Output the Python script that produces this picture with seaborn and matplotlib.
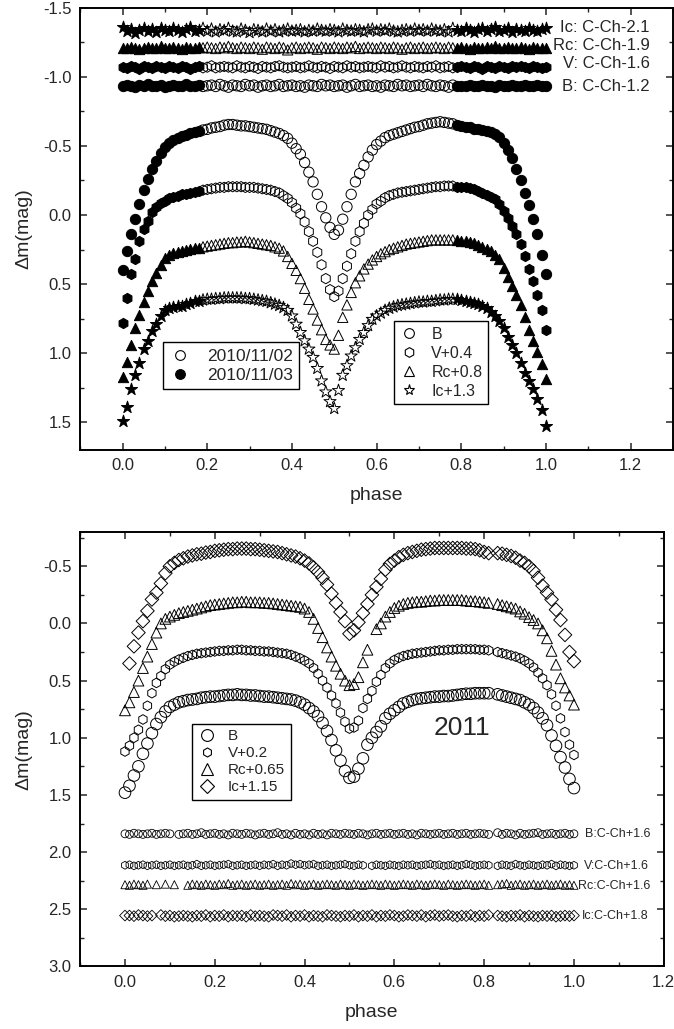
import numpy as np
import matplotlib
matplotlib.use("Agg")
import matplotlib.pyplot as plt
import seaborn as sns
from matplotlib.lines import Line2D
from matplotlib.ticker import MultipleLocator

nan = np.nan

# ---------------- data ----------------
phase_grid = np.round(np.linspace(0.0, 1.0, 101), 2)

# 2010 light curves (already offset as labelled)
B_2010 = [0.40, 0.26, 0.14, 0.03, -0.08, -0.18, -0.26, -0.33, -0.39, -0.45,
          -0.49, -0.52, -0.54, -0.555, -0.57, -0.58, -0.59, -0.60, -0.61, -0.615,
          -0.62, -0.63, -0.635, -0.64, -0.65, -0.655, -0.655, -0.65, -0.645, -0.645,
          -0.64, -0.635, -0.63, -0.625, -0.62, -0.61, -0.60, -0.59, -0.575, -0.555,
          -0.52, -0.48, -0.44, -0.38, -0.31, -0.24, -0.15, -0.06, 0.02, 0.09,
          0.14, 0.11, 0.03, -0.06, -0.15, -0.24, -0.30, -0.36, -0.42, -0.47,
          -0.51, -0.535, -0.56, -0.575, -0.585, -0.595, -0.605, -0.615, -0.625, -0.635,
          -0.64, -0.65, -0.66, -0.665, -0.67, -0.675, -0.67, -0.665, -0.66, -0.65,
          -0.645, -0.64, -0.635, -0.625, -0.62, -0.615, -0.61, -0.60, -0.585, -0.565,
          -0.52, -0.47, -0.41, -0.33, -0.25, -0.16, -0.07, 0.03, 0.14, 0.29, 0.43]
V_2010 = [0.78, 0.60, 0.43, 0.32, 0.19, 0.10, 0.04, -0.02, -0.06, -0.09,
          -0.105, -0.12, -0.13, -0.14, -0.15, -0.155, -0.16, -0.17, -0.175, -0.18,
          -0.185, -0.19, -0.195, -0.20, -0.20, -0.205, -0.205, -0.205, -0.205, -0.20,
          -0.20, -0.20, -0.195, -0.19, -0.185, -0.18, -0.17, -0.16, -0.14, -0.12,
          -0.09, -0.05, -0.01, 0.05, 0.12, 0.19, 0.27, 0.36, 0.46, 0.54,
          0.59, 0.55, 0.46, 0.37, 0.28, 0.19, 0.12, 0.06, 0.00, -0.04,
          -0.08, -0.10, -0.125, -0.14, -0.15, -0.16, -0.165, -0.17, -0.175, -0.18,
          -0.185, -0.19, -0.195, -0.20, -0.205, -0.205, -0.21, -0.21, -0.21, -0.205,
          -0.205, -0.20, -0.195, -0.185, -0.175, -0.16, -0.145, -0.13, -0.115, -0.08,
          -0.03, 0.02, 0.08, 0.14, 0.21, 0.30, 0.39, 0.48, 0.58, 0.69, 0.83]
Rc_2010 = [1.17, 1.06, 0.94, 0.82, 0.72, 0.63, 0.55, 0.48, 0.42, 0.36,
           0.31, 0.29, 0.275, 0.265, 0.26, 0.25, 0.245, 0.24, 0.235, 0.23,
           0.225, 0.22, 0.215, 0.21, 0.205, 0.20, 0.20, 0.195, 0.195, 0.19,
           0.195, 0.20, 0.205, 0.21, 0.215, 0.22, 0.23, 0.24, 0.26, 0.30,
           0.35, 0.40, 0.46, 0.53, 0.61, 0.68, 0.76, 0.83, 0.90, 0.94,
           0.97, 0.87, 0.74, 0.65, 0.56, 0.49, 0.44, 0.39, 0.355, 0.325,
           0.30, 0.28, 0.265, 0.25, 0.24, 0.23, 0.22, 0.21, 0.205, 0.20,
           0.195, 0.19, 0.185, 0.18, 0.18, 0.18, 0.18, 0.18, 0.18, 0.18,
           0.185, 0.19, 0.195, 0.205, 0.215, 0.23, 0.245, 0.26, 0.29, 0.32,
           0.38, 0.45, 0.51, 0.58, 0.65, 0.74, 0.83, 0.91, 0.99, 1.08, 1.19]
Ic_2010 = [1.49, 1.39, 1.26, 1.16, 1.07, 0.97, 0.91, 0.84, 0.79, 0.73,
           0.69, 0.675, 0.665, 0.66, 0.655, 0.645, 0.635, 0.625, 0.62, 0.615,
           0.61, 0.61, 0.605, 0.605, 0.60, 0.60, 0.60, 0.60, 0.60, 0.605,
           0.605, 0.61, 0.615, 0.62, 0.625, 0.635, 0.645, 0.655, 0.67, 0.69,
           0.73, 0.79, 0.85, 0.91, 0.97, 1.03, 1.11, 1.20, 1.28, 1.35,
           1.40, 1.27, 1.16, 1.09, 1.02, 0.96, 0.90, 0.85, 0.80, 0.755,
           0.73, 0.71, 0.69, 0.675, 0.665, 0.655, 0.65, 0.645, 0.64, 0.635,
           0.63, 0.63, 0.625, 0.625, 0.62, 0.615, 0.615, 0.61, 0.61, 0.61,
           0.615, 0.62, 0.63, 0.64, 0.645, 0.66, 0.675, 0.70, 0.73, 0.77,
           0.82, 0.88, 0.94, 1.00, 1.07, 1.14, 1.20, 1.26, 1.33, 1.41, 1.53]

# 2010 comparison - check star rows
B_cmp_2010 = [-0.93, -0.94, -0.935, -0.925, -0.94, -0.93, -0.945, -0.935, -0.93, -0.94,
              -0.925, -0.935, -0.94, -0.93, -0.935, -0.945, -0.93, -0.935, -0.94, -0.93,
              -0.935, -0.94, -0.93, -0.945, -0.935, -0.925, -0.94, -0.935, -0.93, -0.945,
              -0.935, -0.94, -0.925, -0.935, -0.94, -0.93, -0.935, -0.945, -0.93, -0.935,
              -0.94, -0.93, -0.935, -0.925, -0.94, -0.935, -0.93, -0.945, -0.935, -0.94,
              -0.93, -0.935, -0.94, -0.925, -0.935, -0.945, -0.93, -0.935, -0.94, -0.93,
              -0.935, -0.925, -0.94, -0.935, -0.93, -0.945, -0.935, -0.94, -0.93, -0.935,
              -0.94, -0.93, -0.945, -0.935, -0.93, -0.94, -0.935, -0.925, -0.94, -0.935,
              -0.93, -0.935, -0.94, -0.93, -0.935, -0.94, -0.93, -0.935, -0.925, -0.94,
              -0.935, -0.93, -0.94, -0.935, -0.93, -0.94, -0.935, -0.93, -0.94, -0.935, -0.93]
V_cmp_2010 = [-1.07, -1.065, -1.075, -1.07, -1.06, -1.075, -1.07, -1.065, -1.08, -1.07,
              -1.065, -1.075, -1.07, -1.065, -1.075, -1.07, -1.06, -1.07, -1.075, -1.065,
              -1.07, -1.08, -1.065, -1.07, -1.075, -1.07, -1.065, -1.08, -1.07, -1.065,
              -1.075, -1.07, -1.06, -1.075, -1.07, -1.065, -1.075, -1.08, -1.07, -1.065,
              -1.07, -1.075, -1.065, -1.07, -1.08, -1.07, -1.065, -1.075, -1.07, -1.06,
              -1.075, -1.07, -1.065, -1.08, -1.07, -1.075, -1.065, -1.07, -1.075, -1.07,
              -1.065, -1.08, -1.07, -1.075, -1.065, -1.07, -1.08, -1.07, -1.065, -1.075,
              -1.07, -1.065, -1.075, -1.07, -1.08, -1.065, -1.07, -1.075, -1.065, -1.07,
              -1.075, -1.07, -1.065, -1.075, -1.07, -1.06, -1.075, -1.07, -1.065, -1.075,
              -1.07, -1.065, -1.075, -1.07, -1.08, -1.07, -1.065, -1.075, -1.07, -1.065, -1.07]
Rc_cmp_2010 = [-1.21, -1.205, -1.215, -1.21, -1.2, -1.21, -1.215, -1.205, -1.21, -1.22,
               -1.21, -1.205, -1.215, -1.21, -1.2, -1.215, -1.21, -1.205, -1.215, -1.21,
               -1.215, -1.21, -1.205, -1.215, -1.21, -1.22, -1.21, -1.205, -1.215, -1.21,
               -1.205, -1.215, -1.21, -1.2, -1.215, -1.21, -1.205, -1.215, -1.21, -1.195,
               -1.21, -1.215, -1.205, -1.21, -1.215, -1.21, -1.2, -1.215, -1.21, -1.205,
               -1.215, -1.21, -1.205, -1.215, -1.21, -1.22, -1.205, -1.21, -1.215, -1.21,
               -1.205, -1.215, -1.21, -1.205, -1.215, -1.21, -1.2, -1.21, -1.215, -1.205,
               -1.21, -1.215, -1.205, -1.21, -1.215, -1.21, -1.205, -1.215, -1.21, -1.205,
               -1.215, -1.21, -1.2, -1.215, -1.21, -1.205, -1.215, -1.21, -1.22, -1.21,
               -1.205, -1.215, -1.21, -1.205, -1.215, -1.21, -1.2, -1.215, -1.21, -1.205, -1.21]
Ic_cmp_2010 = [-1.36, -1.33, -1.345, -1.32, -1.34, -1.355, -1.33, -1.345, -1.325, -1.35,
               -1.34, -1.33, -1.355, -1.34, -1.325, -1.345, -1.36, -1.335, -1.34, -1.35,
               -1.33, -1.345, -1.325, -1.34, -1.335, -1.35, -1.33, -1.325, -1.345, -1.335,
               -1.32, -1.34, -1.335, -1.325, -1.345, -1.33, -1.34, -1.325, -1.335, -1.345,
               -1.33, -1.335, -1.34, -1.325, -1.335, -1.33, -1.345, -1.335, -1.33, -1.34,
               -1.335, -1.325, -1.345, -1.335, -1.33, -1.34, -1.335, -1.325, -1.34, -1.345,
               -1.33, -1.34, -1.335, -1.345, -1.33, -1.325, -1.335, -1.34, -1.33, -1.345,
               -1.335, -1.34, -1.33, -1.345, -1.335, -1.33, -1.34, -1.325, -1.35, -1.34,
               -1.33, -1.355, -1.34, -1.325, -1.345, -1.35, -1.33, -1.345, -1.36, -1.335,
               -1.34, -1.35, -1.325, -1.345, -1.34, -1.33, -1.355, -1.34, -1.33, -1.345, -1.35]

# 2011 light curves
B_2011 = [1.48, 1.42, 1.33, 1.25, 1.14, 1.05, 0.96, 0.88, 0.82, 0.77,
          0.73, 0.71, 0.69, 0.68, 0.67, 0.665, 0.66, 0.65, 0.645, 0.64,
          0.64, 0.635, 0.63, 0.625, 0.625, 0.62, 0.625, 0.625, 0.63, 0.63,
          0.635, 0.64, 0.64, 0.645, 0.65, 0.655, 0.66, 0.665, 0.675, 0.69,
          0.71, 0.74, 0.77, 0.81, 0.87, 0.94, 1.02, 1.11, 1.20, 1.29,
          1.35, 1.34, 1.27, 1.18, 1.06, 1.00, 0.95, 0.90, 0.83, 0.79,
          0.76, 0.73, 0.70, 0.685, 0.67, 0.66, 0.655, 0.65, 0.645, 0.64,
          0.64, 0.635, 0.635, 0.63, 0.625, 0.62, 0.615, 0.615, 0.61, 0.61,
          0.61, 0.61, nan, 0.62, 0.63, 0.64, 0.65, 0.66, 0.67, 0.69,
          0.71, 0.74, 0.78, 0.83, 0.89, 0.98, 1.07, 1.17, 1.26, 1.36, 1.44]
V_2011 = [1.12, 1.07, 1.00, 0.93, 0.84, 0.72, 0.61, 0.52, 0.46, 0.40,
          0.36, 0.335, 0.315, 0.30, 0.285, 0.275, 0.265, 0.26, 0.255, 0.25,
          0.245, 0.24, 0.24, 0.235, 0.235, 0.23, 0.23, 0.235, 0.235, 0.24,
          0.24, 0.245, 0.245, 0.25, 0.255, 0.26, 0.265, 0.275, 0.29, 0.305,
          0.325, 0.35, 0.39, 0.44, 0.50, 0.56, 0.63, 0.70, 0.78, 0.86,
          0.92, 0.91, 0.85, 0.74, 0.66, 0.59, 0.51, 0.45, 0.39, 0.35,
          0.32, 0.30, 0.285, 0.275, 0.265, 0.26, 0.255, 0.25, 0.245, 0.24,
          0.235, 0.235, 0.23, 0.23, 0.225, 0.225, 0.225, 0.225, 0.225, 0.23,
          0.23, 0.235, nan, 0.25, 0.26, 0.27, 0.28, 0.29, 0.305, 0.325,
          0.35, 0.385, 0.43, 0.48, 0.54, 0.62, 0.72, 0.83, 0.95, 1.06, 1.15]
Rc_2011 = [0.76, 0.69, 0.60, 0.50, 0.39, 0.29, 0.18, 0.08, 0.00, -0.04,
           -0.06, -0.075, -0.09, -0.10, -0.11, -0.12, -0.13, -0.14, -0.15, -0.16,
           -0.165, -0.17, -0.175, -0.18, -0.185, -0.185, -0.19, -0.19, -0.185, -0.185,
           -0.185, -0.18, -0.18, -0.175, -0.17, -0.165, -0.16, -0.155, -0.15, -0.145,
           -0.13, -0.10, -0.04, 0.04, 0.12, 0.21, 0.29, 0.37, 0.44, 0.50,
           0.54, 0.53, 0.47, 0.34, 0.23, nan, 0.05, 0.00, -0.06, -0.10,
           -0.135, -0.155, -0.17, -0.18, -0.185, -0.19, -0.19, -0.195, -0.20, -0.20,
           -0.205, -0.205, -0.205, -0.205, -0.205, -0.205, -0.20, -0.195, -0.195, -0.19,
           -0.185, -0.18, nan, -0.17, -0.16, -0.15, -0.14, -0.13, -0.105, -0.085,
           -0.055, -0.03, 0.00, 0.06, 0.13, 0.24, 0.36, 0.48, 0.56, 0.63, 0.71]
Ic_2011 = [nan, 0.35, 0.20, 0.08, -0.02, -0.11, -0.21, -0.27, -0.35, -0.44,
           -0.50, -0.53, -0.555, -0.57, -0.585, -0.595, -0.605, -0.61, -0.62, -0.625,
           -0.635, -0.64, -0.645, -0.65, -0.65, -0.655, -0.655, -0.655, -0.65, -0.65,
           -0.645, -0.64, -0.635, -0.63, -0.625, -0.615, -0.605, -0.595, -0.585, -0.57,
           -0.55, -0.525, -0.49, -0.45, -0.40, -0.34, -0.26, -0.18, -0.10, -0.02,
           0.09, 0.06, -0.01, -0.09, -0.17, -0.25, -0.32, -0.39, -0.47, -0.52,
           -0.55, -0.58, -0.60, -0.615, -0.625, -0.635, -0.645, -0.65, -0.655, -0.66,
           -0.66, -0.66, -0.66, -0.66, -0.66, -0.66, -0.655, -0.655, -0.65, -0.64,
           -0.625, -0.615, nan, -0.615, -0.61, -0.60, -0.59, -0.575, -0.55, -0.53,
           -0.50, -0.46, -0.40, -0.33, -0.27, -0.21, -0.12, -0.03, 0.10, 0.25, 0.33]

B_cmp_2011 = [1.84, 1.845, 1.835, 1.84, 1.845, 1.84, 1.835, 1.845, 1.84, 1.835,
              1.84, nan, 1.845, 1.84, 1.835, 1.845, 1.84, 1.83, 1.845, 1.84,
              1.835, 1.845, 1.84, 1.85, 1.835, 1.84, 1.845, 1.835, 1.84, 1.85,
              1.84, 1.835, 1.845, 1.84, 1.83, 1.845, 1.84, 1.85, 1.835, 1.845,
              1.84, 1.85, 1.835, 1.845, 1.84, 1.85, 1.835, 1.84, 1.845, 1.835,
              1.84, 1.845, 1.835, 1.84, 1.85, 1.84, 1.835, 1.845, 1.84, 1.835,
              1.845, 1.84, 1.835, 1.845, 1.84, 1.85, 1.835, 1.84, 1.845, 1.84,
              1.835, 1.845, 1.84, 1.835, 1.845, 1.84, 1.835, 1.845, 1.84, 1.835,
              1.84, 1.845, nan, 1.83, 1.845, 1.835, 1.84, 1.85, 1.835, 1.845,
              1.84, 1.835, 1.83, 1.845, 1.84, 1.835, 1.845, 1.84, 1.835, 1.845, 1.84]
V_cmp_2011 = [2.115, 2.11, 2.12, 2.115, 2.11, 2.12, 2.115, 2.11, 2.12, 2.115,
              2.11, 2.12, 2.115, 2.11, 2.12, 2.115, 2.105, 2.12, 2.115, 2.11,
              2.12, 2.115, 2.11, 2.105, 2.12, 2.115, 2.11, 2.12, 2.115, 2.11,
              2.12, 2.11, 2.115, 2.105, 2.12, 2.11, 2.115, 2.1, 2.11, 2.105,
              2.115, 2.11, 2.105, 2.12, 2.115, 2.11, 2.12, 2.115, 2.11, 2.105,
              2.115, 2.12, 2.11, 2.115, nan, 2.12, 2.11, 2.115, 2.12, 2.11,
              2.115, 2.12, 2.11, 2.115, 2.11, 2.12, 2.115, 2.11, 2.105, 2.115,
              2.11, 2.12, 2.115, 2.11, 2.12, 2.115, 2.105, 2.11, 2.12, 2.115,
              2.11, 2.115, nan, 2.12, 2.11, 2.115, 2.12, 2.105, 2.115, 2.12,
              2.11, 2.115, 2.12, 2.11, 2.115, 2.105, 2.12, 2.11, 2.115, 2.12, 2.115]
Rc_cmp_2011 = [2.285, 2.29, 2.28, 2.285, 2.29, 2.28, nan, 2.285, nan, 2.28,
               nan, 2.285, nan, nan, 2.29, 2.28, 2.285, 2.29, 2.28, 2.285,
               2.29, 2.28, 2.285, 2.275, 2.29, 2.285, 2.28, 2.29, 2.285, 2.28,
               2.29, 2.285, 2.28, 2.29, 2.285, 2.28, 2.29, 2.275, 2.285, 2.28,
               2.29, 2.285, 2.28, 2.29, 2.285, 2.28, 2.285, 2.29, 2.28, 2.285,
               2.29, 2.28, 2.285, 2.29, 2.285, 2.28, 2.285, 2.29, 2.28, 2.285,
               2.29, 2.285, 2.28, 2.285, 2.29, 2.28, 2.285, 2.29, 2.285, 2.28,
               2.285, 2.29, 2.28, 2.285, 2.29, 2.285, 2.28, 2.285, 2.29, 2.285,
               2.28, 2.29, nan, 2.285, 2.28, 2.275, 2.29, 2.285, 2.28, 2.29,
               2.285, 2.28, 2.29, 2.285, 2.28, 2.29, 2.285, 2.28, 2.29, 2.285, 2.29]
Ic_cmp_2011 = [2.555, 2.555, 2.56, 2.55, 2.555, 2.56, 2.555, nan, 2.55, 2.56,
               2.555, 2.565, 2.56, 2.555, 2.56, 2.565, 2.555, 2.56, 2.55, 2.565,
               2.555, 2.56, 2.55, 2.565, 2.555, 2.56, 2.555, 2.565, 2.55, 2.56,
               2.555, 2.56, 2.565, 2.55, 2.555, 2.56, 2.55, 2.565, 2.555, 2.56,
               2.55, 2.565, 2.555, 2.56, 2.565, 2.55, 2.555, 2.56, 2.565, 2.555,
               2.56, 2.55, 2.565, 2.555, 2.56, 2.55, 2.565, 2.555, 2.56, 2.55,
               2.555, 2.565, 2.56, 2.55, 2.555, 2.56, 2.55, 2.565, 2.555, 2.55,
               2.56, 2.555, 2.55, 2.56, 2.565, 2.555, 2.56, 2.55, 2.565, 2.555,
               2.56, 2.55, nan, 2.555, 2.56, 2.565, 2.555, 2.56, 2.55, 2.565,
               2.555, 2.56, 2.565, 2.555, 2.56, 2.555, 2.565, 2.56, 2.555, 2.56, 2.555]

night1_end = 0.185   # 2010/11/03 covers phases below this and above night1_start
night1_start = 0.785

top_legend_dates = ["2010/11/02", "2010/11/03"]
top_legend_bands = ["B", "V+0.4", "Rc+0.8", "Ic+1.3"]
top_cmp_labels = ["B: C-Ch-1.2", "V: C-Ch-1.6", "Rc: C-Ch-1.9", "Ic: C-Ch-2.1"]
top_cmp_label_y = [-0.93, -1.095, -1.228, -1.36]
bot_legend_bands = ["B", "V+0.2", "Rc+0.65", "Ic+1.15"]
bot_cmp_labels = ["B:C-Ch+1.6", "V:C-Ch+1.6", "Rc:C-Ch+1.6", "Ic:C-Ch+1.8"]
bot_cmp_label_x = [1.025, 1.022, 1.01, 1.018]
bot_cmp_label_y = [1.84, 2.12, 2.30, 2.56]

# ---------------- style ----------------
sns.set_theme(style="ticks")
plt.rcParams.update({
    "font.family": ["Liberation Sans", "DejaVu Sans"],
    "axes.unicode_minus": False,
    "xtick.direction": "in", "ytick.direction": "in",
    "xtick.top": True, "ytick.right": True,
    "axes.linewidth": 1.4,
    "axes.edgecolor": "black",
})

fig = plt.figure(figsize=(6.74, 10.29), dpi=100)
ax1 = fig.add_axes([0.119, 0.5627, 0.8795, 0.4298])
ax2 = fig.add_axes([0.1188, 0.0608, 0.866, 0.4222])


def scatter(ax, x, y, marker, s, filled, lw=0.7):
    x = np.asarray(x, float)
    y = np.asarray(y, float)
    if filled:
        sns.scatterplot(x=x, y=y, marker=marker, s=s, color="black",
                        edgecolor="black", linewidth=lw, ax=ax, legend=False)
    else:
        sns.scatterplot(x=x, y=y, marker=marker, s=s, color="black",
                        facecolor="none", edgecolor="black", linewidth=lw,
                        ax=ax, legend=False)


def split_night(ax, values, marker, s):
    y = np.asarray(values, float)
    ph = phase_grid
    n2 = (ph > night1_end) & (ph < night1_start)
    scatter(ax, ph[n2], y[n2], marker, s, False)
    scatter(ax, ph[~n2], y[~n2], marker, s, True)


# ---------------- top panel ----------------
markers_top = ["o", "h", "^", "*"]
sizes_top = [55, 55, 55, 85]
for vals, m, s in zip([B_2010, V_2010, Rc_2010, Ic_2010], markers_top, sizes_top):
    split_night(ax1, vals, m, s)
for vals, m, s in zip([B_cmp_2010, V_cmp_2010, Rc_cmp_2010, Ic_cmp_2010], markers_top, sizes_top):
    split_night(ax1, vals, m, s)

for lab, yy in zip(top_cmp_labels, top_cmp_label_y):
    ax1.text(1.245, yy, lab, ha="right", va="center", fontsize=12)

ax1.set_xlim(-0.1, 1.3)
ax1.set_ylim(1.7, -1.5)
ax1.xaxis.set_major_locator(MultipleLocator(0.2))
ax1.xaxis.set_minor_locator(MultipleLocator(0.1))
ax1.yaxis.set_major_locator(MultipleLocator(0.5))
ax1.yaxis.set_minor_locator(MultipleLocator(0.25))
ax1.set_xlabel("phase", fontsize=14, labelpad=10)
ax1.set_ylabel("\u0394m(mag)", fontsize=14, labelpad=8)

h_dates = [Line2D([], [], ls="none", marker="o", ms=7, mfc="none", mec="black", mew=0.8),
           Line2D([], [], ls="none", marker="o", ms=7, mfc="black", mec="black", mew=0.8)]
leg1 = ax1.legend(h_dates, top_legend_dates, loc="lower left",
                  bbox_to_anchor=(0.1397, 0.1374), borderaxespad=0,
                  fontsize=12.5, frameon=True, fancybox=False, framealpha=1,
                  edgecolor="black", handlelength=1.2, handletextpad=1.0,
                  borderpad=0.35, labelspacing=0.25)
leg1.get_frame().set_linewidth(1.0)
ax1.add_artist(leg1)

h_bands = [Line2D([], [], ls="none", marker=m, ms=ms, mfc="none", mec="black", mew=0.8)
           for m, ms in zip(markers_top, [7, 7, 7, 8])]
leg2 = ax1.legend(h_bands, top_legend_bands, loc="lower left",
                  bbox_to_anchor=(0.529, 0.1035), borderaxespad=0,
                  fontsize=11.5, frameon=True, fancybox=False, framealpha=1,
                  edgecolor="black", handlelength=1.2, handletextpad=0.8,
                  borderpad=0.35, labelspacing=0.25)
leg2.get_frame().set_linewidth(1.0)

# ---------------- bottom panel ----------------
markers_bot = ["o", "h", "^", "D"]
sizes_bot = [70, 48, 60, 48]
for vals, m, s in zip([B_2011, V_2011, Rc_2011, Ic_2011], markers_bot, sizes_bot):
    scatter(ax2, phase_grid, vals, m, s, False)
sizes_cmp_bot = [32, 32, 34, 30]
for vals, m, s in zip([B_cmp_2011, V_cmp_2011, Rc_cmp_2011, Ic_cmp_2011], markers_bot, sizes_cmp_bot):
    scatter(ax2, phase_grid, vals, m, s, False, lw=0.6)

for lab, xx, yy in zip(bot_cmp_labels, bot_cmp_label_x, bot_cmp_label_y):
    ax2.text(xx, yy, lab, ha="left", va="center", fontsize=9)
ax2.text(0.75, 0.915, "2011", ha="center", va="center", fontsize=19)

ax2.set_xlim(-0.1, 1.2)
ax2.set_ylim(3.0, -0.8)
ax2.xaxis.set_major_locator(MultipleLocator(0.2))
ax2.xaxis.set_minor_locator(MultipleLocator(0.1))
ax2.yaxis.set_major_locator(MultipleLocator(0.5))
ax2.yaxis.set_minor_locator(MultipleLocator(0.25))
ax2.set_xlabel("phase", fontsize=14, labelpad=10)
ax2.set_ylabel("\u0394m(mag)", fontsize=14, labelpad=8)

h_bot = [Line2D([], [], ls="none", marker=m, ms=ms, mfc="none", mec="black", mew=0.8)
         for m, ms in zip(markers_bot, [8.5, 6.5, 8, 7])]
leg3 = ax2.legend(h_bot, bot_legend_bands, loc="lower left",
                  bbox_to_anchor=(0.192, 0.384), borderaxespad=0,
                  fontsize=11, frameon=True, fancybox=False, framealpha=1,
                  edgecolor="black", handlelength=1.2, handletextpad=0.8,
                  borderpad=0.35, labelspacing=0.2)
leg3.get_frame().set_linewidth(1.0)

for ax in (ax1, ax2):
    ax.tick_params(which="major", length=5, width=1.1, labelsize=12, pad=6)
    ax.tick_params(which="minor", length=3, width=1.0)
    for sp in ax.spines.values():
        sp.set_linewidth(1.4)

fig.savefig("out.png", dpi=100)
